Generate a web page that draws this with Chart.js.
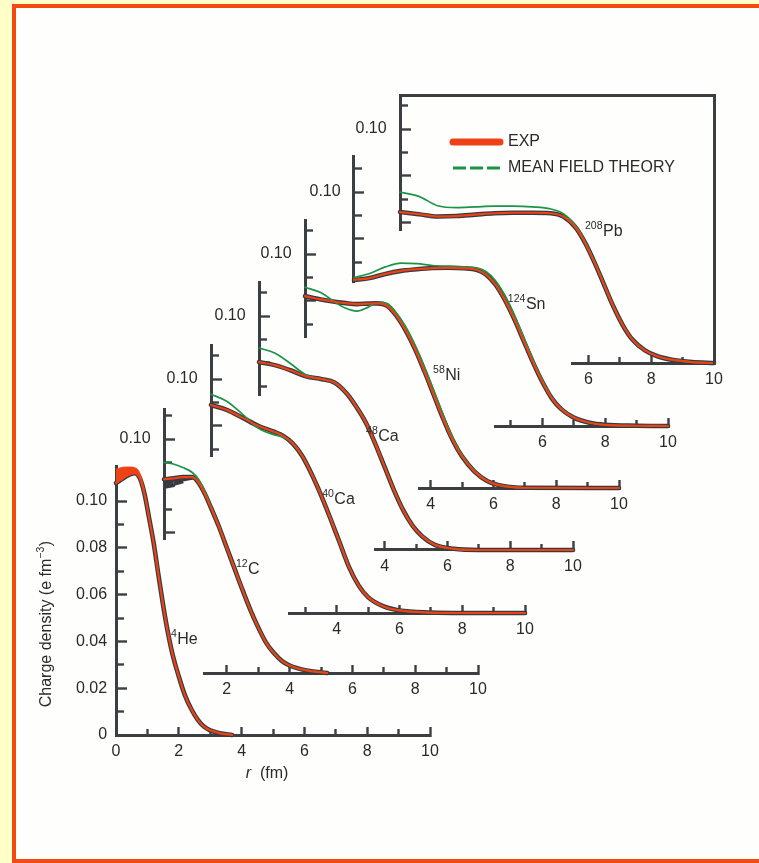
<!DOCTYPE html>
<html lang="en">
<head>
<meta charset="utf-8">
<title>Charge density of nuclei</title>
<script src="https://cdn.jsdelivr.net/npm/chart.js@4.4.1/dist/chart.umd.min.js"></script>
<style>
    html, body { margin: 0; padding: 0; }
    body { position: relative; width: 759px; height: 863px; overflow: hidden; background: #ffffc8; }
    #sheet { position: absolute; left: 12px; top: 4px; width: 800px; height: 859px; box-sizing: border-box;
             border: 4px solid #f24a10; background: #fefefd; }
    #plots canvas { position: absolute; }
</style>
</head>
<body>
<div id="sheet"></div>
<div id="plots"></div>
<script>
(() => {
    // ticks (r in fm, density in e fm^-3)
    const rMajor = [0, 2, 4, 6, 8, 10];
    const rMinor = [1, 3, 5, 7, 9];
    const rhoMajor = [0, 0.02, 0.04, 0.06, 0.08, 0.10];
    const rhoMinor = [0.01, 0.03, 0.05, 0.07, 0.09, 0.11];

    // 4He
    const heR = [0, 0.15, 0.3, 0.45, 0.6, 0.75, 0.9, 1.05, 1.2, 1.35, 1.5, 1.65, 1.8, 2.0, 2.2, 2.4, 2.6, 2.8, 3.0, 3.3, 3.7];
    const heExp = [0.1077, 0.1090, 0.1104, 0.1114, 0.1119, 0.1100, 0.1035, 0.0930, 0.0820, 0.0685, 0.0555, 0.0440, 0.0345, 0.0250, 0.0168, 0.0110, 0.0066, 0.0036, 0.0020, 0.0008, 0.0];
    const heBandR = [0, 0.15, 0.3, 0.45, 0.6, 0.75, 0.9];
    const heBandLo = [0.1075, 0.1088, 0.1102, 0.1112, 0.1117, 0.1098, 0.1032];
    const heBandHi = [0.1136, 0.1142, 0.1145, 0.1145, 0.1142, 0.1122, 0.1048];

    // 12C
    const cR = [0, 0.3, 0.6, 0.9, 1.1, 1.3, 1.5, 1.75, 2.0, 2.25, 2.5, 2.75, 3.0, 3.25, 3.5, 3.75, 4.0, 4.5, 5.2];
    const cExp = [0.0828, 0.0832, 0.0837, 0.0837, 0.0814, 0.0766, 0.0705, 0.0625, 0.0535, 0.0445, 0.0355, 0.0270, 0.0195, 0.0130, 0.0085, 0.0052, 0.0032, 0.0012, 0.0];
    const cTheory = [0.0900, 0.0893, 0.0878, 0.0857, 0.0828, 0.0776, 0.0711, 0.0628, 0.0537, 0.0446, 0.0356, 0.0270, 0.0195, 0.0130, 0.0085, 0.0052, 0.0032, 0.0012, 0.0];
    const cBandR = [0, 0.3, 0.6, 0.9];
    const cBandLo = [0.0785, 0.0796, 0.0814, 0.0830];
    const cBandHi = [0.0828, 0.0832, 0.0837, 0.0837];

    // 40Ca
    const ca40R = [0, 0.5, 1.0, 1.5, 2.0, 2.3, 2.6, 2.9, 3.2, 3.5, 3.8, 4.1, 4.4, 4.7, 5.0, 5.5, 6.0, 7.0, 8.0, 10.0];
    const ca40Exp = [0.0889, 0.0868, 0.0835, 0.0800, 0.0775, 0.0757, 0.0725, 0.0672, 0.0595, 0.0505, 0.0405, 0.0300, 0.0195, 0.0118, 0.0068, 0.0028, 0.0011, 0.0002, 0.0, 0.0];
    const ca40Theory = [0.0935, 0.0905, 0.0850, 0.0790, 0.0762, 0.0752, 0.0726, 0.0674, 0.0597, 0.0507, 0.0407, 0.0302, 0.0196, 0.0118, 0.0068, 0.0028, 0.0011, 0.0002, 0.0, 0.0];

    // 48Ca
    const ca48R = [0, 0.5, 1.0, 1.5, 2.0, 2.4, 2.8, 3.1, 3.4, 3.7, 4.0, 4.3, 4.6, 4.9, 5.2, 5.6, 6.2, 7.0, 10.0];
    const ca48Exp = [0.0803, 0.0790, 0.0768, 0.0742, 0.0730, 0.0716, 0.0668, 0.0612, 0.0545, 0.0455, 0.0355, 0.0255, 0.0168, 0.0102, 0.0058, 0.0022, 0.0005, 0.0, 0.0];
    const ca48Theory = [0.0863, 0.0842, 0.0797, 0.0748, 0.0731, 0.0717, 0.0670, 0.0614, 0.0547, 0.0457, 0.0357, 0.0256, 0.0169, 0.0102, 0.0058, 0.0022, 0.0005, 0.0, 0.0];

    // 58Ni
    const ni58R = [0, 0.5, 1.0, 1.3, 1.65, 2.0, 2.3, 2.6, 2.9, 3.2, 3.5, 3.8, 4.1, 4.4, 4.7, 5.0, 5.4, 5.8, 6.3, 7.0, 10.0];
    const ni58Exp = [0.0820, 0.0806, 0.0795, 0.0790, 0.0786, 0.0788, 0.0789, 0.0780, 0.0738, 0.0675, 0.0595, 0.0500, 0.0398, 0.0296, 0.0205, 0.0135, 0.0070, 0.0030, 0.0009, 0.0001, 0.0];
    const ni58Theory = [0.0858, 0.0835, 0.0790, 0.0768, 0.0756, 0.0772, 0.0792, 0.0789, 0.0750, 0.0690, 0.0612, 0.0520, 0.0418, 0.0312, 0.0216, 0.0141, 0.0073, 0.0031, 0.0009, 0.0001, 0.0];

    // 124Sn
    const sn124R = [0, 0.5, 1.0, 1.5, 2.0, 2.5, 3.0, 3.5, 3.9, 4.2, 4.5, 4.8, 5.1, 5.4, 5.7, 6.0, 6.3, 6.6, 7.0, 7.5, 8.0, 9.0, 10.0];
    const sn124Exp = [0.0624, 0.0632, 0.0650, 0.0663, 0.0670, 0.0675, 0.0676, 0.0674, 0.0668, 0.0648, 0.0605, 0.0540, 0.0458, 0.0365, 0.0272, 0.0188, 0.0118, 0.0072, 0.0036, 0.0014, 0.0005, 0.0001, 0.0];
    const sn124Theory = [0.0634, 0.0652, 0.0680, 0.0696, 0.0694, 0.0686, 0.0682, 0.0680, 0.0676, 0.0660, 0.0622, 0.0560, 0.0477, 0.0380, 0.0283, 0.0195, 0.0122, 0.0074, 0.0037, 0.0014, 0.0005, 0.0001, 0.0];

    // 208Pb
    const pb208R = [0, 0.6, 1.2, 1.8, 2.4, 3.0, 3.6, 4.2, 4.8, 5.2, 5.6, 5.9, 6.2, 6.5, 6.8, 7.1, 7.4, 7.8, 8.2, 8.7, 9.3, 10.0];
    const pb208Exp = [0.0645, 0.0636, 0.0626, 0.0628, 0.0634, 0.0640, 0.0642, 0.0642, 0.0640, 0.0626, 0.0578, 0.0512, 0.0428, 0.0334, 0.0240, 0.0160, 0.0100, 0.0054, 0.0029, 0.0013, 0.0004, 0.0];
    const pb208Theory = [0.0730, 0.0712, 0.0672, 0.0664, 0.0667, 0.0670, 0.0670, 0.0667, 0.0658, 0.0638, 0.0585, 0.0517, 0.0432, 0.0337, 0.0242, 0.0161, 0.0100, 0.0054, 0.0029, 0.0013, 0.0004, 0.0];

    const legendNames = ["EXP", "MEAN FIELD THEORY"];

    // page geometry and look
    const W = 759, H = 863;
    const SX = 31.4;   // px per fm
    const SY = 2340;   // px per e fm^-3
    const AXIS = "#3c3f42", TEXT = "#2a2a2a", RED = "#ee4216", GREEN = "#1b9447", DARK = "#383b3e";
    const FONT = '"Liberation Sans", Arial, Helvetica, sans-serif';

    Chart.defaults.font.family = FONT;
    Chart.defaults.font.size = 16;
    Chart.defaults.color = TEXT;

    // ox/oy = page pixel of r = 0, rho = 0 for each panel; axes only cover xStart..10 and yLo..yHi
    const panels = [
        { ox: 116, oy: 735, xStart: 0, yLo: 0, yHi: 0.1146, r: heR, exp: heExp, theory: null,
          band: { r: heBandR, lo: heBandLo, hi: heBandHi, color: RED, filled: true }, mass: "4", sym: "He", at: [1.75, 0.0389], allLabels: true },
        { ox: 164, oy: 673, xStart: 1.3, yLo: 0.057, yHi: 0.1125, r: cR, exp: cExp, theory: cTheory,
          band: { r: cBandR, lo: cBandLo, hi: cBandHi, color: DARK }, mass: "12", sym: "C", at: [2.29, 0.0423] },
        { ox: 211, oy: 613, xStart: 2.5, yLo: 0.067, yHi: 0.1145, r: ca40R, exp: ca40Exp, theory: ca40Theory,
          mass: "40", sym: "Ca", at: [3.54, 0.0466] },
        { ox: 259, oy: 550, xStart: 3.7, yLo: 0.066, yHi: 0.1143, r: ca48R, exp: ca48Exp, theory: ca48Theory,
          mass: "48", sym: "Ca", at: [3.41, 0.0466] },
        { ox: 305, oy: 488, xStart: 3.65, yLo: 0.0645, yHi: 0.1145, r: ni58R, exp: ni58Exp, theory: ni58Theory,
          mass: "58", sym: "Ni", at: [4.08, 0.0462] },
        { ox: 354, oy: 426, xStart: 4.5, yLo: 0.0615, yHi: 0.115, r: sn124R, exp: sn124Exp, theory: sn124Theory,
          mass: "124", sym: "Sn", at: [4.90, 0.0500] },
        { ox: 400, oy: 363, xStart: 5.5, yLo: 0.0568, yHi: 0.1145, r: pb208R, exp: pb208Exp, theory: pb208Theory,
          mass: "208", sym: "Pb", at: [5.89, 0.0543] }
    ];

    const pts = (r, v) => r.map((x, i) => ({ x, y: v[i] }));
    const inRange = (vals, lo, hi) => vals.filter(v => v >= lo - 1e-9 && v <= hi + 1e-9);
    const useRange = (min, max) => (scale) => { scale.min = min; scale.max = max; };
    const useTicks = (vals) => (scale) => { scale.ticks = vals.map(value => ({ value })); };
    const tickGrid = (len) => ({ display: true, drawOnChartArea: false, drawTicks: true, tickLength: len, tickWidth: 2.4, tickColor: AXIS });

    const makeCanvas = (left, top, w, h) => {
        const c = document.createElement("canvas");
        c.width = w;
        c.height = h;
        c.style.left = left + "px";
        c.style.top = top + "px";
        document.getElementById("plots").appendChild(c);
        return c;
    };

    // labels with superscripts, placed in data coordinates
    const richText = {
        id: "richText",
        afterDatasetsDraw(chart, args, opts) {
            const { ctx, scales } = chart;
            (opts.items || []).forEach(item => {
                const px = scales.x.getPixelForValue(item.at[0]);
                const py = scales.y.getPixelForValue(item.at[1]);
                ctx.save();
                ctx.translate(px, py);
                if (item.rotate) ctx.rotate(item.rotate);
                ctx.fillStyle = TEXT;
                ctx.textAlign = "left";
                ctx.textBaseline = "alphabetic";
                const fonts = item.parts.map(p => `${p.italic ? "italic " : ""}${p.sup ? 10.5 : 16}px ${FONT}`);
                const widths = item.parts.map((p, i) => { ctx.font = fonts[i]; return ctx.measureText(p.text).width + (p.sup ? 0.5 : 0); });
                let x = item.center ? -widths.reduce((a, b) => a + b, 0) / 2 : 0;
                item.parts.forEach((p, i) => {
                    ctx.font = fonts[i];
                    ctx.fillText(p.text, x, p.sup ? -7 : 0);
                    x += widths[i];
                });
                ctx.restore();
            });
        }
    };

    const lineSet = (data, color, width, order) => ({
        data, borderColor: color, borderWidth: width, order,
        clip: false, pointRadius: 0, fill: false, cubicInterpolationMode: "monotone"
    });

    // error band: filled between its edges when it sits inside the chart area,
    // otherwise stroked with a width that follows the band height
    const bandSets = (b, firstIndex) => {
        if (b.filled) {
            const lo = lineSet(pts(b.r, b.lo), b.color, 1, 2);
            const hi = lineSet(pts(b.r, b.hi), b.color, 1, 2);
            hi.fill = firstIndex;
            hi.backgroundColor = b.color;
            return [lo, hi];
        }
        const thick = b.lo.map((lo, i) => Math.max((b.hi[i] - lo) * SY, 1.5));
        const set = lineSet(b.r.map((x, i) => ({ x, y: (b.lo[i] + b.hi[i]) / 2 })), b.color, thick[0], 2);
        set.borderCapStyle = "butt";
        set.segment = { borderWidth: ctx => (thick[ctx.p0DataIndex] + thick[ctx.p1DataIndex]) / 2 };
        return [set];
    };

    function panelChart(p) {
        const left = p.ox + p.xStart * SX, right = p.ox + 10 * SX;
        const top = p.oy - p.yHi * SY, bottom = p.oy - p.yLo * SY;
        // object-positioned y axes put the label right on the axis line, so pad it with spaces
        const gap = p.allLabels ? "  " : "   ";
        const yLabel = v => (p.allLabels || Math.abs(v - 0.1) < 1e-9) ? (v === 0 ? "0" : v.toFixed(2)) + gap : "";

        const datasets = [lineSet(pts(p.r, p.exp), RED, 2.2, 0)];
        if (p.theory) datasets.push(lineSet(pts(p.r, p.theory), GREEN, 1.7, 1));
        if (p.band) datasets.push(...bandSets(p.band, datasets.length));
        datasets.push(lineSet(pts(p.r, p.exp), DARK, 4.6, 3));

        const items = [{ parts: [{ text: p.mass, sup: true }, { text: p.sym }], at: p.at }];
        if (p.allLabels) {
            items.push({ parts: [{ text: "Charge density (e fm" }, { text: "\u22123", sup: true }, { text: ")" }], at: [-2.07, 0.0474], rotate: -Math.PI / 2, center: true });
            items.push({ parts: [{ text: "r", italic: true }, { text: "  (fm)" }], at: [4.81, -0.0184], center: true });
        }

        new Chart(makeCanvas(0, 0, W, H), {
            type: "line",
            data: { datasets },
            options: {
                responsive: false, maintainAspectRatio: false, animation: false, events: [],
                layout: { autoPadding: false, padding: { left, right: W - right, top, bottom: H - bottom } },
                elements: { line: { capBezierPoints: false, borderJoinStyle: "round", borderCapStyle: "round" }, point: { radius: 0 } },
                plugins: { legend: { display: false }, tooltip: { enabled: false }, richText: { items } },
                scales: {
                    x: {
                        type: "linear", position: { y: 0 }, bounds: "data",
                        afterDataLimits: useRange(p.xStart, 10),
                        afterBuildTicks: useTicks(inRange(rMajor, p.xStart, 10)),
                        grid: tickGrid(-10),
                        border: { display: true, width: 3, color: AXIS },
                        ticks: { autoSkip: false, maxRotation: 0, padding: 17.4, color: TEXT, font: { size: 16 }, callback: v => String(v) }
                    },
                    y: {
                        type: "linear", position: { x: 0 }, bounds: "data",
                        afterDataLimits: useRange(p.yLo, p.yHi),
                        afterBuildTicks: useTicks(inRange(rhoMajor, p.yLo, p.yHi)),
                        grid: tickGrid(-12),
                        border: { display: true, width: 3, color: AXIS },
                        ticks: { autoSkip: false, color: TEXT, font: { size: 16 }, callback: yLabel }
                    },
                    xm: {
                        type: "linear", axis: "x", position: { y: 0 }, bounds: "data",
                        afterDataLimits: useRange(p.xStart, 10),
                        afterBuildTicks: useTicks(inRange(rMinor, p.xStart, 10)),
                        grid: tickGrid(-6), border: { display: false }, ticks: { display: false }
                    },
                    ym: {
                        type: "linear", axis: "y", position: { x: 0 }, bounds: "data",
                        afterDataLimits: useRange(p.yLo, p.yHi),
                        afterBuildTicks: useTicks(inRange(rhoMinor, p.yLo, p.yHi)),
                        grid: tickGrid(-8), border: { display: false }, ticks: { display: false }
                    }
                }
            },
            plugins: [richText]
        });
    }

    // top and right lines of the box around the 208Pb panel
    function frameChart(p) {
        const left = p.ox, right = p.ox + 10 * SX, top = p.oy - p.yHi * SY, bottom = p.oy;
        const edge = (axis, lo, hi, pos) => ({
            type: "linear", axis, position: pos, bounds: "data",
            afterDataLimits: useRange(lo, hi),
            grid: { display: false }, ticks: { display: false },
            border: { display: true, width: 3, color: AXIS }
        });
        new Chart(makeCanvas(0, 0, W, H), {
            type: "line",
            data: { datasets: [] },
            options: {
                responsive: false, maintainAspectRatio: false, animation: false, events: [],
                layout: { autoPadding: false, padding: { left, right: W - right, top, bottom: H - bottom } },
                plugins: { legend: { display: false }, tooltip: { enabled: false } },
                scales: { x: edge("x", 0, 10, { y: p.yHi }), y: edge("y", 0, p.yHi, { x: 10 }) }
            }
        });
    }

    function legendChart() {
        const styles = [
            { strokeStyle: RED, fillStyle: RED, lineWidth: 7, lineCap: "round" },
            { strokeStyle: GREEN, fillStyle: GREEN, lineWidth: 3, lineDash: [13, 4], lineCap: "butt" }
        ];
        new Chart(makeCanvas(443, 124, 280, 140), {
            type: "line",
            data: { datasets: [] },
            options: {
                responsive: false, maintainAspectRatio: false, animation: false, events: [],
                scales: { x: { display: false }, y: { display: false } },
                plugins: {
                    tooltip: { enabled: false },
                    legend: {
                        display: true, position: "top", align: "start",
                        labels: {
                            color: TEXT, font: { size: 16 }, padding: 10, boxHeight: 8,
                            usePointStyle: true, pointStyleWidth: 47,
                            generateLabels: () => legendNames.map((text, i) => ({ text, pointStyle: "line", fontColor: TEXT, hidden: false, ...styles[i] }))
                        }
                    }
                }
            }
        });
    }

    panels.forEach(panelChart);
    frameChart(panels[panels.length - 1]);
    legendChart();
})();
</script>
</body>
</html>
